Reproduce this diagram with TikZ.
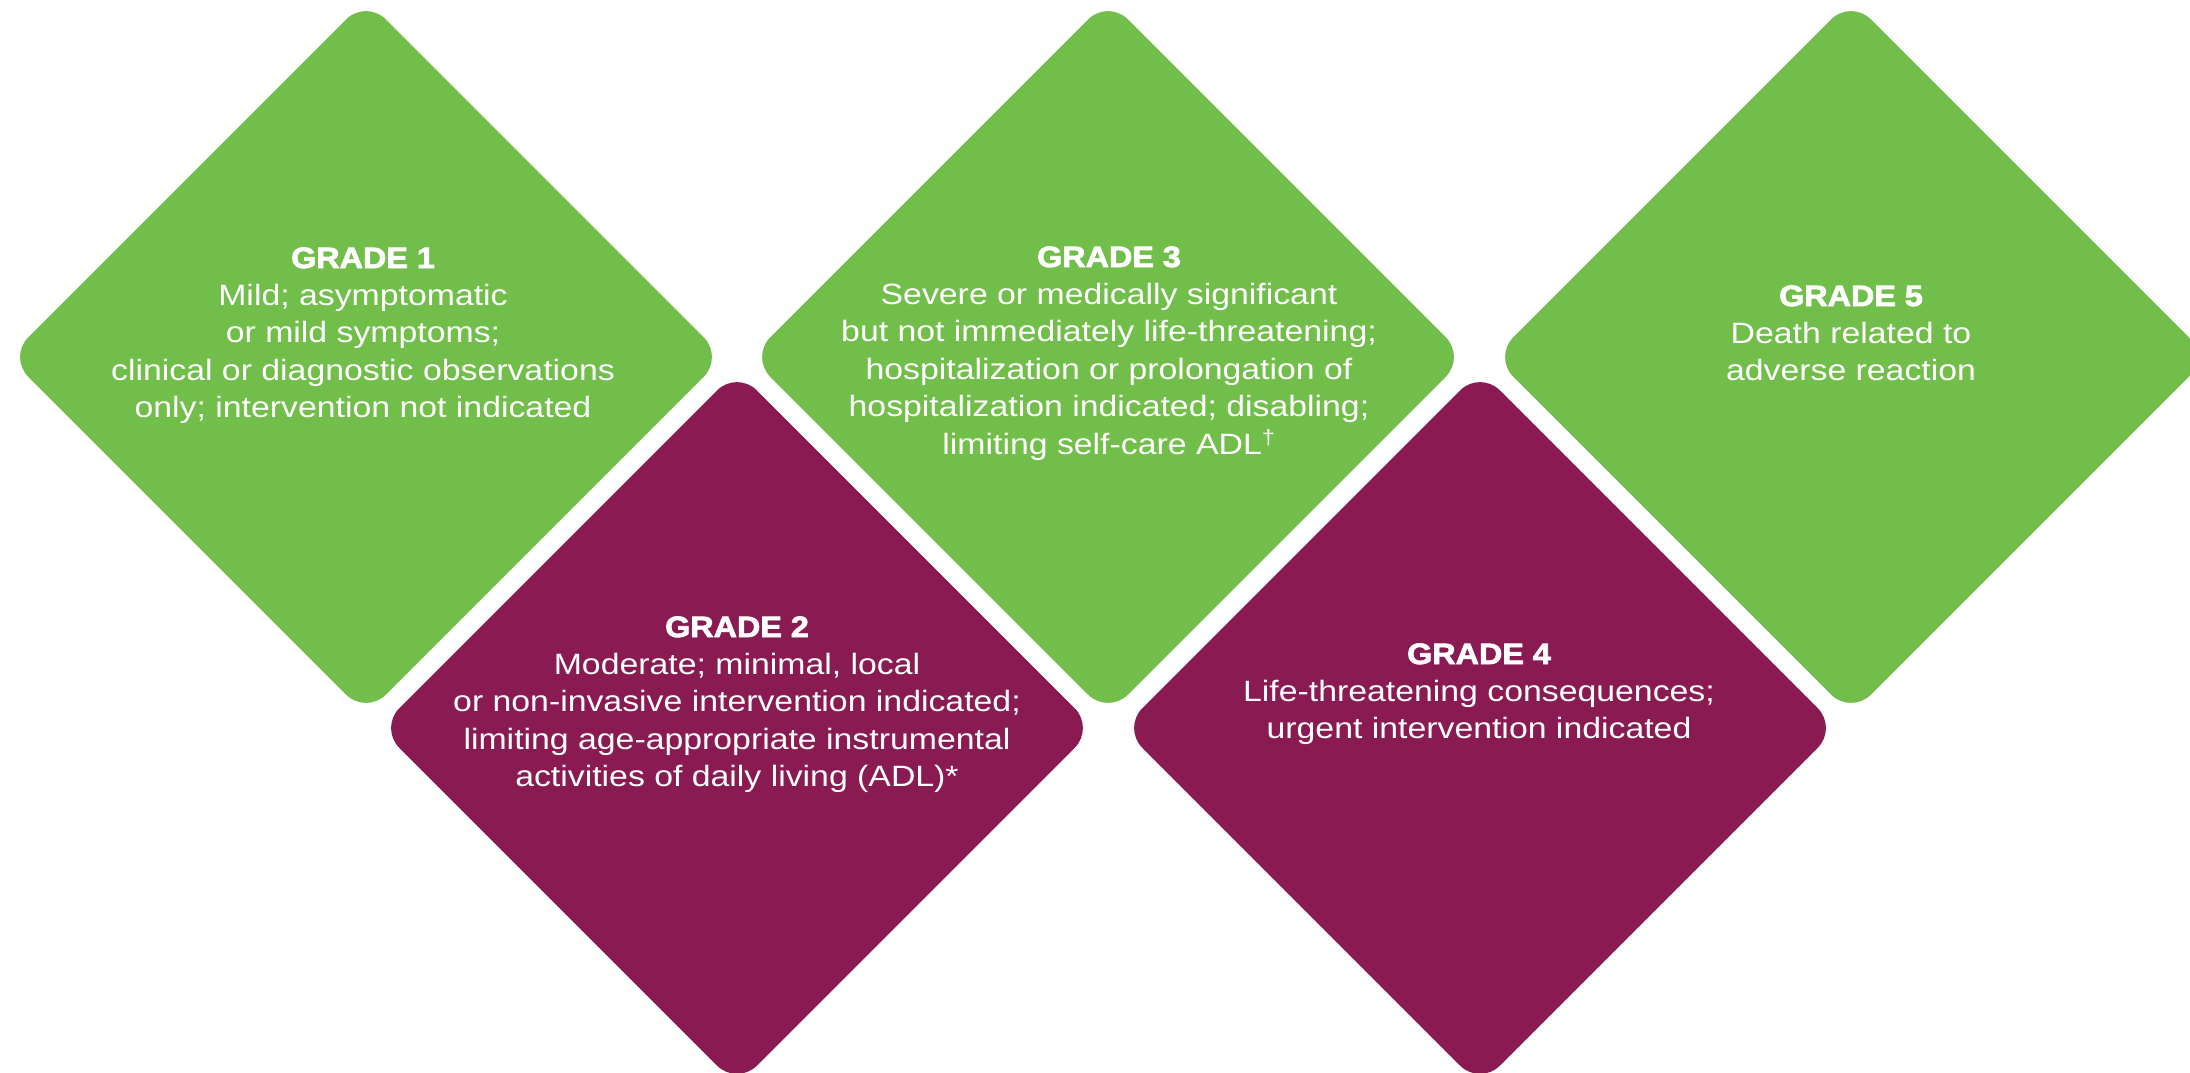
\documentclass[tikz,border=0pt]{standalone}
\usepackage{fontspec}
\setmainfont{Liberation Sans}
\newfontfamily\bodyfont{Liberation Sans}[FakeStretch=1.15]
\newfontfamily\headfont{Liberation Sans}[FakeStretch=1.1,BoldFeatures={FakeBold=2.5}]
\usetikzlibrary{shapes.geometric}
\definecolor{gradegreen}{HTML}{72BE4A}
\definecolor{gradepurple}{HTML}{891B52}
% heading line plus centred body lines on a fixed baseline grid
\newcommand\gradelines[2]{\vtop{\baselineskip=37.4pt\lineskiplimit=-100pt\lineskip=0pt\tabskip=0pt
  \halign{\hfil\bodyfont\fontsize{29.4}{37.4}\selectfont##\hfil\cr
    {\headfont\bfseries\fontsize{29.4}{37.4}\selectfont #1}\cr#2\crcr}}}
\tikzset{
  tile/.style={diamond, aspect=1, minimum width=715pt, minimum height=715pt,
    inner sep=0pt, outer sep=0pt, rounded corners=28pt, draw=none},
  greentile/.style={tile, fill=gradegreen},
  purpletile/.style={tile, fill=gradepurple},
  gradetext/.style={anchor=base, inner sep=0pt, text=white}
}
\begin{document}
\begin{tikzpicture}[x=1pt, y=-1pt]
\useasboundingbox (0,0) rectangle (2190,1072);
\clip (0,0) rectangle (2190,1072);
\fill[white] (0,0) rectangle (2190,1072);

% tiles
\node[greentile]  (d1) at (366,357)  {};
\node[purpletile] (d2) at (737,728)  {};
\node[greentile]  (d3) at (1108,357) {};
\node[purpletile] (d4) at (1480,728) {};
\node[greentile]  (d5) at (1851,357) {};

% labels
\node[gradetext] (t1) at (363,268) {\gradelines{GRADE 1}{%
  Mild; asymptomatic\cr
  or mild symptoms;\cr
  clinical or diagnostic observations\cr
  only; intervention not indicated}};
\node[gradetext] (t2) at (737,637) {\gradelines{GRADE 2}{%
  Moderate; minimal, local\cr
  or non-invasive intervention indicated;\cr
  limiting age-appropriate instrumental\cr
  activities of daily living (ADL)*}};
\node[gradetext] (t3) at (1109,267) {\gradelines{GRADE 3}{%
  Severe or medically significant\cr
  but not immediately life-threatening;\cr
  hospitalization or prolongation of\cr
  hospitalization indicated; disabling;\cr
  limiting self-care ADL\textsuperscript{†}}};
\node[gradetext] (t4) at (1479,664) {\gradelines{GRADE 4}{%
  Life-threatening consequences;\cr
  urgent intervention indicated}};
\node[gradetext] (t5) at (1851,306) {\gradelines{GRADE 5}{%
  Death related to\cr
  adverse reaction}};
\end{tikzpicture}
\end{document}
